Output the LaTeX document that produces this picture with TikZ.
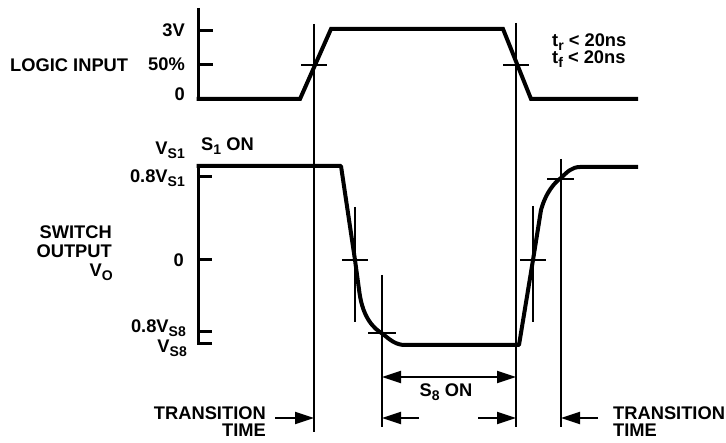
\documentclass[tikz,border=0pt]{standalone}
\usepackage{fontspec}
\setmainfont{Liberation Sans}
\usetikzlibrary{arrows.meta}
\newcommand\mysub[1]{\raisebox{-4pt}{\fontsize{14}{14}\selectfont #1}}
\begin{document}
\begin{tikzpicture}[x=1pt,y=-1pt,
  lbl/.style={inner sep=0pt, font=\fontsize{18.3}{19}\selectfont\bfseries},
  wave/.style={line width=4pt, line join=miter},
  axis/.style={line width=3pt},
  thin/.style={line width=1.3pt},
  arr/.style={line width=2pt, -{Triangle[length=19pt,width=12pt]}},
  darr/.style={line width=2pt, {Triangle[length=19pt,width=12pt]}-{Triangle[length=19pt,width=12pt]}},
]
\useasboundingbox (0,0) rectangle (726,443);

% ---------- top axis and logic input ----------
\coordinate (ta1) at (198,8);
\coordinate (ta2) at (198,100);
\draw[axis] (ta1) -- (ta2);
\coordinate (t3a) at (198,31);  \coordinate (t3b) at (213,31);
\coordinate (t5a) at (198,65);  \coordinate (t5b) at (213,65);
\draw[axis] (t3a) -- (t3b);
\draw[axis] (t5a) -- (t5b);

\coordinate (w1) at (196.5,99);
\coordinate (w2) at (300,99);
\coordinate (w3) at (331,29);
\coordinate (w4) at (503,29);
\coordinate (w5) at (531,99);
\coordinate (w6) at (638,99);
\draw[wave] (w1) -- (w2) -- (w3) -- (w4) -- (w5) -- (w6);

% ---------- bottom axis ----------
\coordinate (ba1) at (198,164);
\coordinate (ba2) at (212,344);
\draw[axis] (ba2) -| (ba1);
\coordinate (b1a) at (198,177); \coordinate (b1b) at (212,177);
\coordinate (b2a) at (198,260); \coordinate (b2b) at (212,260);
\coordinate (b3a) at (198,332); \coordinate (b3b) at (212,332);
\draw[axis] (b1a) -- (b1b);
\draw[axis] (b2a) -- (b2b);
\draw[axis] (b3a) -- (b3b);

% ---------- switch output waveform ----------
\coordinate (o1) at (196.5,166);
\coordinate (o2) at (341,166);
\coordinate (o3) at (355,260);
\coordinate (o4) at (359.5,293);
\coordinate (o5) at (383,334);
\coordinate (o6) at (405,345);
\coordinate (o7) at (519,345);
\coordinate (o8) at (533,260);
\coordinate (o9) at (541,210);
\coordinate (o10) at (561,178);
\coordinate (o11) at (580,167);
\coordinate (o12) at (638,167);
\draw[wave, line join=round] (o1) -- (o2) -- (o3) -- (o4)
  .. controls (363,318) and (374,329) .. (o5)
  .. controls (390,340) and (396,345) .. (o6)
  -- (o7) -- (o8) -- (o9)
  .. controls (546,192) and (555,182) .. (o10)
  .. controls (567,172) and (572,167) .. (o11)
  -- (o12);

% ---------- thin reference lines ----------
\coordinate (v1t) at (314,24);  \coordinate (v1b) at (314,432);
\coordinate (v2t) at (516,23);  \coordinate (v2b) at (516,427);
\coordinate (v3t) at (382,275); \coordinate (v3b) at (382,427);
\coordinate (v4t) at (561,159); \coordinate (v4b) at (561,427);
\draw[thin] (v1t) -- (v1b);
\draw[thin] (v2t) -- (v2b);
\draw[thin] (v3t) -- (v3b);
\draw[thin] (v4t) -- (v4b);

% crosshairs
\coordinate (h1a) at (301,65);  \coordinate (h1b) at (327,65);
\coordinate (h2a) at (503,65);  \coordinate (h2b) at (529,65);
\coordinate (h3a) at (342,260); \coordinate (h3b) at (368,260);
\coordinate (h4a) at (368,333); \coordinate (h4b) at (396,333);
\coordinate (h5a) at (520,260); \coordinate (h5b) at (546,260);
\coordinate (h6a) at (547,179); \coordinate (h6b) at (574,179);
\coordinate (c1a) at (355,207); \coordinate (c1b) at (355,322);
\coordinate (c2a) at (533,206); \coordinate (c2b) at (533,322);
\draw[thin] (h1a) -- (h1b);
\draw[thin] (h2a) -- (h2b);
\draw[thin] (h3a) -- (h3b);
\draw[thin] (h4a) -- (h4b);
\draw[thin] (h5a) -- (h5b);
\draw[thin] (h6a) -- (h6b);
\draw[thin] (c1a) -- (c1b);
\draw[thin] (c2a) -- (c2b);

% ---------- arrows ----------
\coordinate (s8l) at (382,377); \coordinate (s8r) at (516,377);
\draw[darr] (s8l) -- (s8r);
\coordinate (a1s) at (419,418); \coordinate (a1e) at (382,418);
\coordinate (a2s) at (478,418); \coordinate (a2e) at (516,418);
\draw[arr] (a1s) -- (a1e);
\draw[arr] (a2s) -- (a2e);
\coordinate (a3s) at (275,418); \coordinate (a3e) at (314,418);
\coordinate (a4s) at (598,418); \coordinate (a4e) at (561,418);
\draw[arr] (a3s) -- (a3e);
\draw[arr] (a4s) -- (a4e);

% ---------- labels ----------
\node[lbl, anchor=base east] (l3v) at (185,37) {3V};
\node[lbl, anchor=base east] (l50) at (185,71) {50\%};
\node[lbl, anchor=base east] (l0a) at (185,101) {0};
\node[lbl, anchor=base west] (logic) at (10,72) {LOGIC INPUT};
\node[lbl, anchor=base west] (tr) at (552,47) {t\mysub{r} < 20ns};
\node[lbl, anchor=base west] (tf) at (552,64) {t\mysub{f} < 20ns};

\node[lbl, anchor=base east] (vs1) at (185,155) {V\mysub{S1}};
\node[lbl, anchor=base west] (s1on) at (201,151) {S\mysub{1} ON};
\node[lbl, anchor=base east] (v08s1) at (185,183) {0.8V\mysub{S1}};
\node[lbl, anchor=base east] (sw) at (112,239) {SWITCH};
\node[lbl, anchor=base east] (outp) at (112,258) {OUTPUT};
\node[lbl, anchor=base east] (vo) at (113,277) {V\mysub{O}};
\node[lbl, anchor=base east] (l0b) at (184,267) {0};
\node[lbl, anchor=base east] (v08s8) at (186,333) {0.8V\mysub{S8}};
\node[lbl, anchor=base east] (vs8) at (187,353) {V\mysub{S8}};
\node[lbl, anchor=base] (s8on) at (446,397) {S\mysub{8} ON};
\node[lbl, anchor=base east] (trl) at (266,420) {TRANSITION};
\node[lbl, anchor=base east] (timel) at (266,437) {TIME};
\node[lbl, anchor=base west] (trr) at (613,420) {TRANSITION};
\node[lbl, anchor=base west] (timer) at (613,437) {TIME};
\end{tikzpicture}
\end{document}
